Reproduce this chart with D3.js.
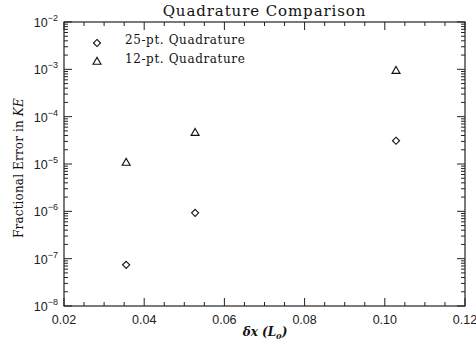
<!DOCTYPE html>
<html>
<head>
<meta charset="utf-8">
<script src="https://cdn.jsdelivr.net/npm/d3@7"></script>
<style>
  html, body { margin: 0; padding: 0; background: #fff; }
  svg { display: block; }
</style>
</head>
<body>
<svg id="chart" width="476" height="349"></svg>
<script>
// Grid spacing (in L0) for each run
const dx = [0.0355, 0.0527, 0.1028];
// Fractional kinetic-energy error for each quadrature order
const err25 = [7.4e-8, 9.3e-7, 3.1e-5];
const err12 = [1.05e-5, 4.5e-5, 9.2e-4];
const seriesNames = ["25-pt. Quadrature", "12-pt. Quadrature"];
const xTicks = [0.02, 0.04, 0.06, 0.08, 0.10, 0.12];
const yExponents = [-8, -7, -6, -5, -4, -3, -2];

const svg = d3.select("#chart");
const m = { left: 64, right: 465, top: 22, bottom: 306 };
const ink = "#222";

const x = d3.scaleLinear().domain([0.02, 0.12]).range([m.left, m.right]);
const y = d3.scaleLog().domain([1e-8, 1e-2]).range([m.bottom, m.top]);

// Plot frame
svg.append("rect")
  .attr("x", m.left).attr("y", m.top)
  .attr("width", m.right - m.left).attr("height", m.bottom - m.top)
  .attr("fill", "none").attr("stroke", ink).attr("stroke-width", 1.2);

// X ticks: majors every 0.02, minors every 0.005, mirrored on top
const xMinor = d3.range(0.02, 0.1201, 0.005);
const gx = svg.append("g").attr("stroke", ink).attr("stroke-width", 1);
xMinor.forEach(v => {
  const isMajor = xTicks.some(t => Math.abs(t - v) < 1e-9);
  const len = isMajor ? 8 : 4;
  gx.append("line").attr("x1", x(v)).attr("x2", x(v))
    .attr("y1", m.bottom).attr("y2", m.bottom - len);
  gx.append("line").attr("x1", x(v)).attr("x2", x(v))
    .attr("y1", m.top).attr("y2", m.top + len);
});
svg.append("g").selectAll("text").data(xTicks).join("text")
  .attr("x", d => x(d)).attr("y", m.bottom + 18)
  .attr("text-anchor", "middle")
  .attr("font-family", "Liberation Sans, Arial, sans-serif")
  .attr("font-size", 12.5).attr("fill", ink)
  .text(d => d.toFixed(2));

// Y ticks: decade majors, 2..9 minors, mirrored on the right
const gy = svg.append("g").attr("stroke", ink).attr("stroke-width", 1);
yExponents.forEach((e, i) => {
  const major = Math.pow(10, e);
  [m.left, m.right].forEach(edge => {
    const dir = edge === m.left ? 1 : -1;
    gy.append("line").attr("x1", edge).attr("x2", edge + dir * 8)
      .attr("y1", y(major)).attr("y2", y(major));
    if (i < yExponents.length - 1) {
      for (let k = 2; k <= 9; k++) {
        const v = k * major;
        gy.append("line").attr("x1", edge).attr("x2", edge + dir * 4)
          .attr("y1", y(v)).attr("y2", y(v));
      }
    }
  });
});
const yLab = svg.append("g").selectAll("text").data(yExponents).join("text")
  .attr("x", 58).attr("y", d => y(Math.pow(10, d)) + 5)
  .attr("text-anchor", "end")
  .attr("font-family", "Liberation Sans, Arial, sans-serif")
  .attr("font-size", 12.5).attr("fill", ink);
yLab.append("tspan").text("10");
yLab.append("tspan").attr("dy", -6).attr("font-size", 9).text(d => "\u2212" + Math.abs(d));

// Title and axis titles
svg.append("text").attr("x", m.left + (m.right - m.left) / 2).attr("y", 16)
  .attr("text-anchor", "middle")
  .attr("font-family", "DejaVu Serif, serif").attr("font-size", 15)
  .attr("letter-spacing", 0.9)
  .attr("fill", "#111").text("Quadrature Comparison");

const xt = svg.append("text").attr("x", 265).attr("y", 336)
  .attr("text-anchor", "middle")
  .attr("font-family", "DejaVu Serif, serif").attr("font-size", 12)
  .attr("font-style", "italic").attr("font-weight", "bold").attr("fill", "#111");
xt.append("tspan").text("\u03b4x  (");
xt.append("tspan").text("L");
xt.append("tspan").attr("dy", 3).attr("font-size", 8).text("0");
xt.append("tspan").attr("dy", -3).text(")");

const yt = svg.append("text")
  .attr("transform", `translate(23,168) rotate(-90)`)
  .attr("text-anchor", "middle")
  .attr("font-family", "DejaVu Serif, serif").attr("font-size", 12)
  .attr("letter-spacing", 0.15)
  .attr("fill", "#111");
yt.append("tspan").text("Fractional Error in ");
yt.append("tspan").attr("font-style", "italic").text("KE");

// Markers
const diamond = d3.symbol().type(d3.symbolDiamond2).size(32);
const triangle = d3.symbol().type(d3.symbolTriangle).size(28);

svg.append("g").selectAll("path").data(dx.map((d, i) => [d, err25[i]])).join("path")
  .attr("transform", d => `translate(${x(d[0])},${y(d[1])})`)
  .attr("d", diamond).attr("fill", "none").attr("stroke", "#111").attr("stroke-width", 1.1);
svg.append("g").selectAll("path").data(dx.map((d, i) => [d, err12[i]])).join("path")
  .attr("transform", d => `translate(${x(d[0])},${y(d[1])})`)
  .attr("d", triangle).attr("fill", "none").attr("stroke", "#111").attr("stroke-width", 1.1);

// Legend
const legend = svg.append("g");
[[diamond, 43], [triangle, 62]].forEach(([sym, ly], i) => {
  legend.append("path").attr("transform", `translate(97,${ly})`)
    .attr("d", sym).attr("fill", "none").attr("stroke", "#111").attr("stroke-width", 1.1);
  legend.append("text").attr("x", 125).attr("y", ly + 1)
    .attr("font-family", "DejaVu Serif, serif").attr("font-size", 12)
    .attr("letter-spacing", 0.6)
    .attr("fill", "#111").text(seriesNames[i]);
});
</script>
</body>
</html>
